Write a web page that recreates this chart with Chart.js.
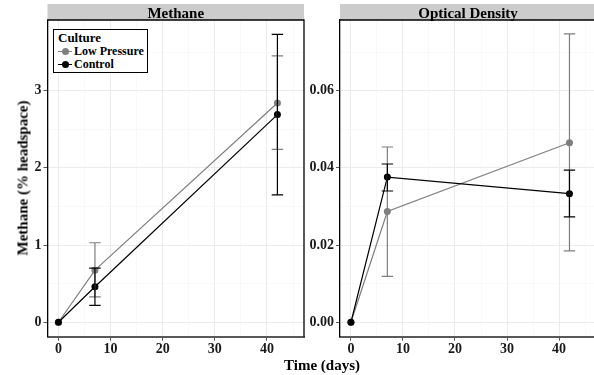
<!DOCTYPE html>
<html>
<head>
<meta charset="utf-8">
<script src="https://cdn.jsdelivr.net/npm/chart.js@4.4.1/dist/chart.umd.min.js"></script>
<style>
  html, body { margin: 0; padding: 0; background: #fff; overflow: hidden; }
  body { width: 594px; height: 375px; position: relative; font-family: "Liberation Serif", serif; font-weight: bold; color: #000; }
  canvas { position: absolute; top: 0; }
  #cMethane { left: 0; }
  #cOD { left: 300px; }
  .axis-title { position: absolute; font-size: 15px; line-height: 15px; white-space: nowrap; }
  #xTitle { left: 322px; top: 358px; transform: translateX(-50%); }
  #yTitle { left: 23px; top: 178px; transform: translate(-50%, -50%) rotate(-90deg); }
  #legend { position: absolute; left: 53px; top: 29px; width: 95px; height: 44px; box-sizing: border-box;
            border: 1px solid #000; background: #fff; }
  #legend .ttl { position: absolute; left: 4px; top: 1px; font-size: 13px; line-height: 14px; }
  #legend .row { position: absolute; left: 4px; font-size: 12px; line-height: 13px; white-space: nowrap; }
  #legend .key { display: inline-block; position: relative; width: 14px; height: 13px; vertical-align: top; margin-right: 2px; }
  #legend .key i { position: absolute; left: 0; top: 6px; width: 14px; height: 1px; }
  #legend .key b { position: absolute; left: 3.5px; top: 3px; width: 7px; height: 7px; border-radius: 50%; }
</style>
</head>
<body>
<canvas id="cMethane" width="320" height="375"></canvas>
<canvas id="cOD" width="300" height="375"></canvas>
<div class="axis-title" id="xTitle">Time (days)</div>
<div class="axis-title" id="yTitle">Methane (% headspace)</div>
<div id="legend">
  <div class="ttl">Culture</div>
  <div class="row" style="top:15px"><span class="key"><i style="background:#7f7f7f"></i><b style="background:#7f7f7f"></b></span>Low Pressure</div>
  <div class="row" style="top:28px"><span class="key"><i style="background:#000"></i><b style="background:#000"></b></span>Control</div>
</div>
<script>
// ------------------ DONNEES ------------------
const days = [0, 7, 42];
const seriesNames = ['Low Pressure', 'Control'];
const panelTitles = ['Methane', 'Optical Density'];

// Methane (% headspace)
const methaneLow   = [0, 0.675, 2.84];
const methaneLowLo = [null, 0.33, 2.24];
const methaneLowHi = [null, 1.03, 3.45];
const methaneCtl   = [0, 0.46, 2.69];
const methaneCtlLo = [null, 0.22, 1.65];
const methaneCtlHi = [null, 0.70, 3.73];

// Optical density
const odLow   = [0, 0.0287, 0.0465];
const odLowLo = [null, 0.0119, 0.0185];
const odLowHi = [null, 0.0454, 0.0747];
const odCtl   = [0, 0.0376, 0.0333];
const odCtlLo = [null, 0.0340, 0.0273];
const odCtlHi = [null, 0.0410, 0.0394];

// graduations
const xGrid = [0, 5, 10, 15, 20, 25, 30, 35, 40, 45];
const xLabels = [0, 10, 20, 30, 40];
const methaneGrid = [0, 0.5, 1, 1.5, 2, 2.5, 3, 3.5];
const methaneLabels = [0, 1, 2, 3];
const odGrid = [0, 0.01, 0.02, 0.03, 0.04, 0.05, 0.06, 0.07];
const odLabels = [0, 0.02, 0.04, 0.06];

const GREY = '#7f7f7f';
const FONT = "'Liberation Serif', serif";

const isMajor = (v, list) => list.some(l => Math.abs(l - v) < 1e-9);

// Barres d'erreur + bandeau + cadre
const panelPlugin = {
    id: 'panel',
    afterDatasetsDraw(chart) {
        const { ctx, scales: { x, y } } = chart;
        ctx.save();
        chart.data.datasets.forEach(ds => {
            ctx.strokeStyle = ds.borderColor;
            ctx.lineWidth = 1.2;
            days.forEach((d, i) => {
                if (ds.errLo[i] == null) return;
                const px = x.getPixelForValue(d);
                const x0 = x.getPixelForValue(d - 1.1), x1 = x.getPixelForValue(d + 1.1);
                const yLo = y.getPixelForValue(ds.errLo[i]), yHi = y.getPixelForValue(ds.errHi[i]);
                ctx.beginPath();
                ctx.moveTo(px, yLo); ctx.lineTo(px, yHi);
                ctx.moveTo(x0, yLo); ctx.lineTo(x1, yLo);
                ctx.moveTo(x0, yHi); ctx.lineTo(x1, yHi);
                ctx.stroke();
            });
        });
        ctx.restore();
    },
    afterDraw(chart) {
        const { ctx, chartArea: a } = chart;
        ctx.save();
        ctx.fillStyle = '#cccccc';
        ctx.fillRect(a.left, 4, a.right - a.left, a.top - 4);
        ctx.strokeStyle = '#000';
        ctx.lineWidth = 1.3;
        ctx.beginPath();
        ctx.moveTo(a.left, a.top); ctx.lineTo(a.right, a.top); ctx.lineTo(a.right, a.bottom);
        ctx.stroke();
        // titre du bandeau par-dessus le cadre
        ctx.fillStyle = '#000';
        ctx.font = 'bold 15px ' + FONT;
        ctx.textAlign = 'center';
        ctx.textBaseline = 'alphabetic';
        ctx.fillText(chart.options.plugins.panel.title, (a.left + a.right) / 2, 17.5);
        ctx.restore();
    }
};

function makePanel(canvasId, title, low, lowLo, lowHi, ctl, ctlLo, ctlHi, yMin, yMax, yGrid, yLabels, yFmt, yWidth, padRight) {
    const pts = arr => days.map((d, i) => ({ x: d, y: arr[i] }));
    const gridColor = (list) => c => isMajor(c.tick.value, list) ? '#ebebeb' : '#f5f5f5';
    const gridWidth = (list) => c => isMajor(c.tick.value, list) ? 1 : 0.6;
    const tickColor = (list) => c => isMajor(c.tick.value, list) ? '#555' : 'rgba(0,0,0,0)';
    return new Chart(document.getElementById(canvasId), {
        type: 'line',
        data: {
            datasets: [
                // order : le contrôle (noir) passe au-dessus
                { label: seriesNames[0], data: pts(low), errLo: lowLo, errHi: lowHi, order: 1,
                  borderColor: GREY, backgroundColor: GREY, borderWidth: 1.2,
                  pointRadius: 3.5, pointBorderWidth: 0, tension: 0 },
                { label: seriesNames[1], data: pts(ctl), errLo: ctlLo, errHi: ctlHi, order: 0,
                  borderColor: '#000', backgroundColor: '#000', borderWidth: 1.2,
                  pointRadius: 3.5, pointBorderWidth: 0, tension: 0 }
            ]
        },
        options: {
            responsive: false,
            animation: false,
            events: [],
            layout: { padding: { top: 20, right: padRight, bottom: 18.3, left: 0 } },
            plugins: { legend: { display: false }, tooltip: { enabled: false }, panel: { title: title } },
            scales: {
                x: {
                    type: 'linear', min: -2.1, max: 47.1,
                    afterBuildTicks: s => { s.ticks = xGrid.map(v => ({ value: v })); },
                    afterFit: s => { s.height = 20; },
                    border: { color: '#595959', width: 2 },
                    grid: { color: gridColor(xLabels), lineWidth: gridWidth(xLabels), tickColor: tickColor(xLabels), tickLength: 4, tickWidth: 1 },
                    ticks: { autoSkip: false, maxRotation: 0, padding: 0, color: '#1a1a1a',
                             font: { family: FONT, weight: 'bold', size: 14 },
                             callback: v => isMajor(v, xLabels) ? String(v) : '' }
                },
                y: {
                    type: 'linear', min: yMin, max: yMax,
                    afterBuildTicks: s => { s.ticks = yGrid.map(v => ({ value: v })); },
                    afterFit: s => { s.width = yWidth; },
                    border: { color: '#000', width: 1.3 },
                    grid: { color: gridColor(yLabels), lineWidth: gridWidth(yLabels), tickColor: tickColor(yLabels), tickLength: 4, tickWidth: 1 },
                    ticks: { autoSkip: false, padding: 2, color: '#1a1a1a',
                             font: { family: FONT, weight: 'bold', size: 14 },
                             callback: v => isMajor(v, yLabels) ? yFmt(v) : '' }
                }
            }
        },
        plugins: [panelPlugin]
    });
}

makePanel('cMethane', panelTitles[0], methaneLow, methaneLowLo, methaneLowHi, methaneCtl, methaneCtlLo, methaneCtlHi,
          -0.187, 3.915, methaneGrid, methaneLabels, v => String(Math.round(v)), 47.5, 16);
makePanel('cOD', panelTitles[1], odLow, odLowLo, odLowHi, odCtl, odCtlLo, odCtlHi,
          -0.00374, 0.0783, odGrid, odLabels, v => v.toFixed(2), 40, 3.5);
</script>
</body>
</html>
